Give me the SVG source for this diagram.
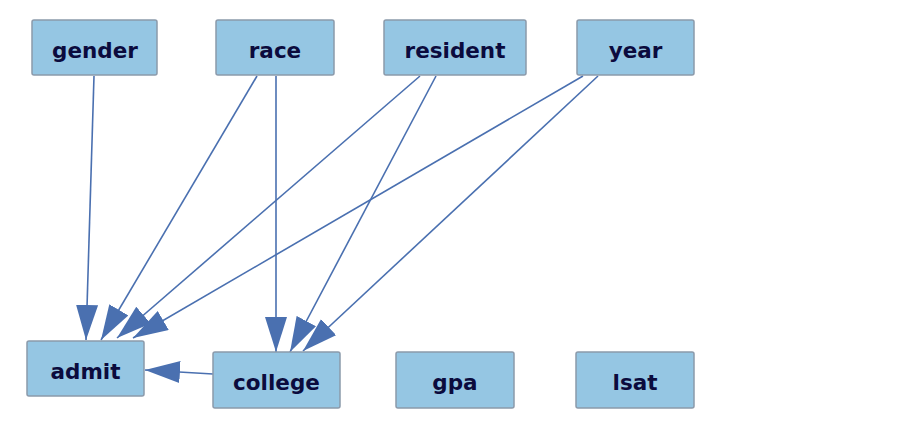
<svg xmlns="http://www.w3.org/2000/svg" width="902" height="442" viewBox="0 0 902 442">
<style>
.box{fill:#95c6e3;stroke:#8b9aab;stroke-width:1.5}
.lbl{font-family:"DejaVu Sans",sans-serif;font-weight:bold;font-size:21.5px;fill:#0b0b3d;text-anchor:middle}
.edge{stroke:#4a70b0;stroke-width:1.6;fill:none;marker-end:url(#ah)}
</style>
<defs>
<marker id="ah" markerUnits="userSpaceOnUse" markerWidth="36" markerHeight="23" refX="35" refY="11" orient="auto">
<path d="M0,0 L35,11 L0,22 z" fill="#4a70b0"/>
</marker>
</defs>
<rect width="902" height="442" fill="#ffffff"/>
<g id="edges">
<line class="edge" x1="94" y1="76" x2="86" y2="340"/>
<line class="edge" x1="257" y1="76" x2="101" y2="340"/>
<line class="edge" x1="276" y1="76" x2="276" y2="352"/>
<line class="edge" x1="420" y1="76" x2="117" y2="338"/>
<line class="edge" x1="436" y1="76" x2="290" y2="352"/>
<line class="edge" x1="583" y1="76" x2="133" y2="338"/>
<line class="edge" x1="598" y1="76" x2="303" y2="351"/>
<line class="edge" x1="213" y1="374" x2="145" y2="370"/>
</g>
<g id="gender"><rect class="box" x="32" y="20" width="125" height="55" rx="2"/><text class="lbl" x="95" y="57.5">gender</text></g>
<g id="race"><rect class="box" x="216" y="20" width="118" height="55" rx="2"/><text class="lbl" x="275" y="57.5">race</text></g>
<g id="resident"><rect class="box" x="384" y="20" width="142" height="55" rx="2"/><text class="lbl" x="455" y="57.5">resident</text></g>
<g id="year"><rect class="box" x="577" y="20" width="117" height="55" rx="2"/><text class="lbl" x="635.5" y="57.5">year</text></g>
<g id="admit"><rect class="box" x="27" y="341" width="117" height="55" rx="2"/><text class="lbl" x="85.5" y="378.5">admit</text></g>
<g id="college"><rect class="box" x="213" y="352" width="127" height="56" rx="2"/><text class="lbl" x="276.5" y="389.5">college</text></g>
<g id="gpa"><rect class="box" x="396" y="352" width="118" height="56" rx="2"/><text class="lbl" x="455" y="389.5">gpa</text></g>
<g id="lsat"><rect class="box" x="576" y="352" width="118" height="56" rx="2"/><text class="lbl" x="635" y="389.5">lsat</text></g>
</svg>
